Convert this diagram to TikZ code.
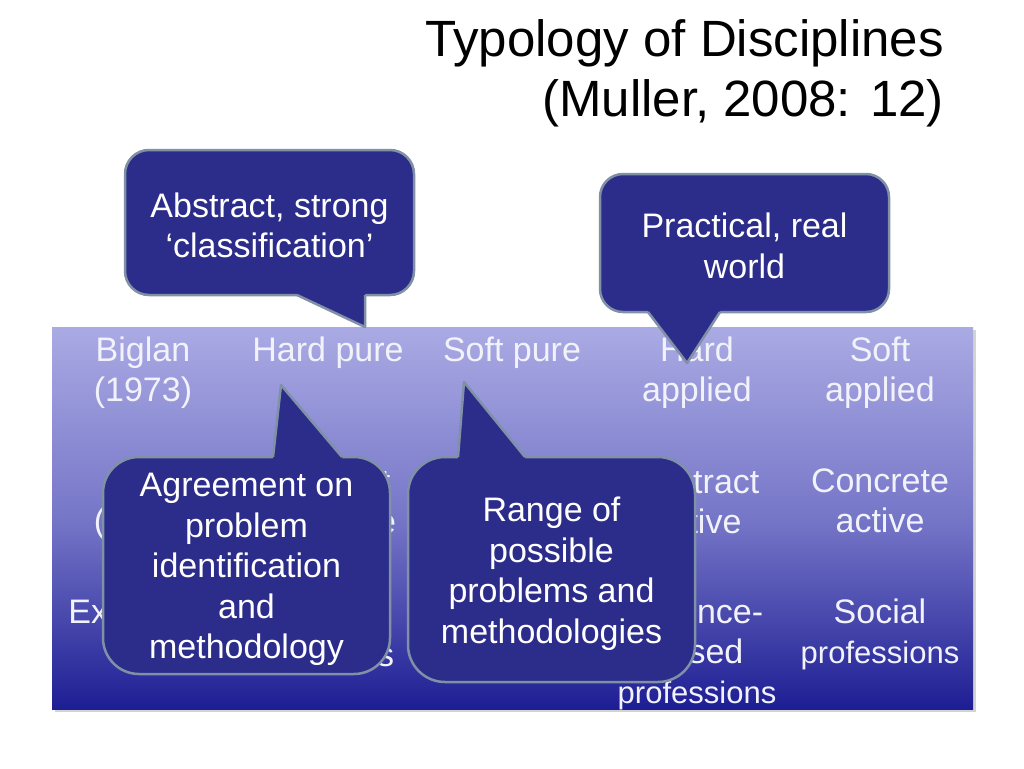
\documentclass[tikz,border=0pt]{standalone}
\usepackage{fontspec}
\setmainfont{Liberation Sans}
\usetikzlibrary{shadows}
\definecolor{bubblefill}{RGB}{44,44,138}
\definecolor{bubbleedge}{RGB}{128,144,166}
\definecolor{tabletop}{RGB}{170,170,228}
\definecolor{tablemid}{RGB}{118,118,200}
\definecolor{tablebot}{RGB}{30,30,148}
\definecolor{celltext}{RGB}{242,242,250}

\begin{document}
\begin{tikzpicture}[x=1pt,y=-1pt,
    cell/.style={text=celltext,align=center,inner sep=0pt,font=\fontsize{34}{40}\selectfont},
    bubble/.style={draw=bubbleedge,fill=bubblefill,line width=2.5pt,inner sep=0pt},
    bubbletext/.style={text=white,align=center,inner sep=0pt,font=\fontsize{34}{40.5}\selectfont},
    tail/.style={draw=bubbleedge,line width=2.5pt,line join=round}]
        %页面
            \useasboundingbox (0,0) rectangle (1024,768);
        %标题
            \node[anchor=east,align=right,inner sep=0pt,font=\fontsize{51}{60}\selectfont] (title) at (944,73) {Typology of Disciplines\\(Muller, 2008: 12)};
        %表格
            \path[drop shadow={shadow xshift=3pt,shadow yshift=-3pt,opacity=0.35},top color=tabletop,bottom color=tablebot,middle color=tablemid] (52,327) rectangle (973,709);
            \node[cell] (biglan) at (143,373) {Biglan\\(1973)};
            \node[cell] (hardpure) at (328,353) {Hard pure};
            \node[cell] (softpure) at (512,353) {Soft pure};
            \node[cell] (hardapp) at (697,373) {Hard\\applied};
            \node[cell] (softapp) at (880,373) {Soft\\applied};
            \node[cell] (kolb) at (143,524) {(1981)};
            \node[cell] (absrefl) at (328,501) {Abstract\\reflective};
            \node[cell] (absact) at (697,501) {Abstract\\active};
            \node[cell] (concact) at (880,501) {Concrete\\active};
            \node[cell] (examples) at (143,615) {Examples};
            \node[cell] (natsci) at (328,634) {Natural\\sciences};
            \node[cell] (scibased) at (697,654) {Science-\\based\\{\fontsize{31}{40}\selectfont professions}};
            \node[cell] (social) at (880,634) {Social\\{\fontsize{31}{40}\selectfont professions}};
        %标注框
            \node[bubble,minimum width=289pt,minimum height=145pt,rounded corners=24pt] (abstract) at (269.5,222.5) {};
            \node[bubbletext] (abstracttext) at (269.5,225.5) {Abstract, strong\\‘classification’};
            \coordinate (abstracttip) at (365,327);
            \fill[bubblefill] (297,288) -- (297,295) -- (abstracttip) -- (365,295) -- (365,288) -- cycle;
            \draw[tail] (297,295) -- (abstracttip) -- (365,295);
            \node[bubble,minimum width=289pt,minimum height=138pt,rounded corners=23pt] (practical) at (744.5,243) {};
            \node[bubbletext] (practicaltext) at (744.5,246) {Practical, real\\world};
            \coordinate (practicaltip) at (687,363);
            \fill[bubblefill] (648,305) -- (648,312) -- (practicaltip) -- (720,312) -- (720,305) -- cycle;
            \draw[tail] (648,312) -- (practicaltip) -- (720,312);
            \node[bubble,minimum width=287pt,minimum height=217pt,rounded corners=36pt] (agreement) at (246.5,565.5) {};
            \node[bubbletext] (agreementtext) at (246.5,569.5) {Agreement on\\problem\\identification\\and\\methodology};
            \coordinate (agreementtip) at (281,385);
            \fill[bubblefill] (273,464) -- (273,457) -- (agreementtip) -- (342,457) -- (342,464) -- cycle;
            \draw[tail] (273,457) -- (agreementtip) -- (342,457);
            \node[bubble,minimum width=287pt,minimum height=225pt,rounded corners=37pt] (range) at (551.5,569.5) {};
            \node[bubbletext] (rangetext) at (551.5,573.5) {Range of\\possible\\problems and\\methodologies};
            \coordinate (rangetip) at (464,382);
            \fill[bubblefill] (458,464) -- (458,457) -- (rangetip) -- (525,457) -- (525,464) -- cycle;
            \draw[tail] (458,457) -- (rangetip) -- (525,457);
\end{tikzpicture}
\end{document}
